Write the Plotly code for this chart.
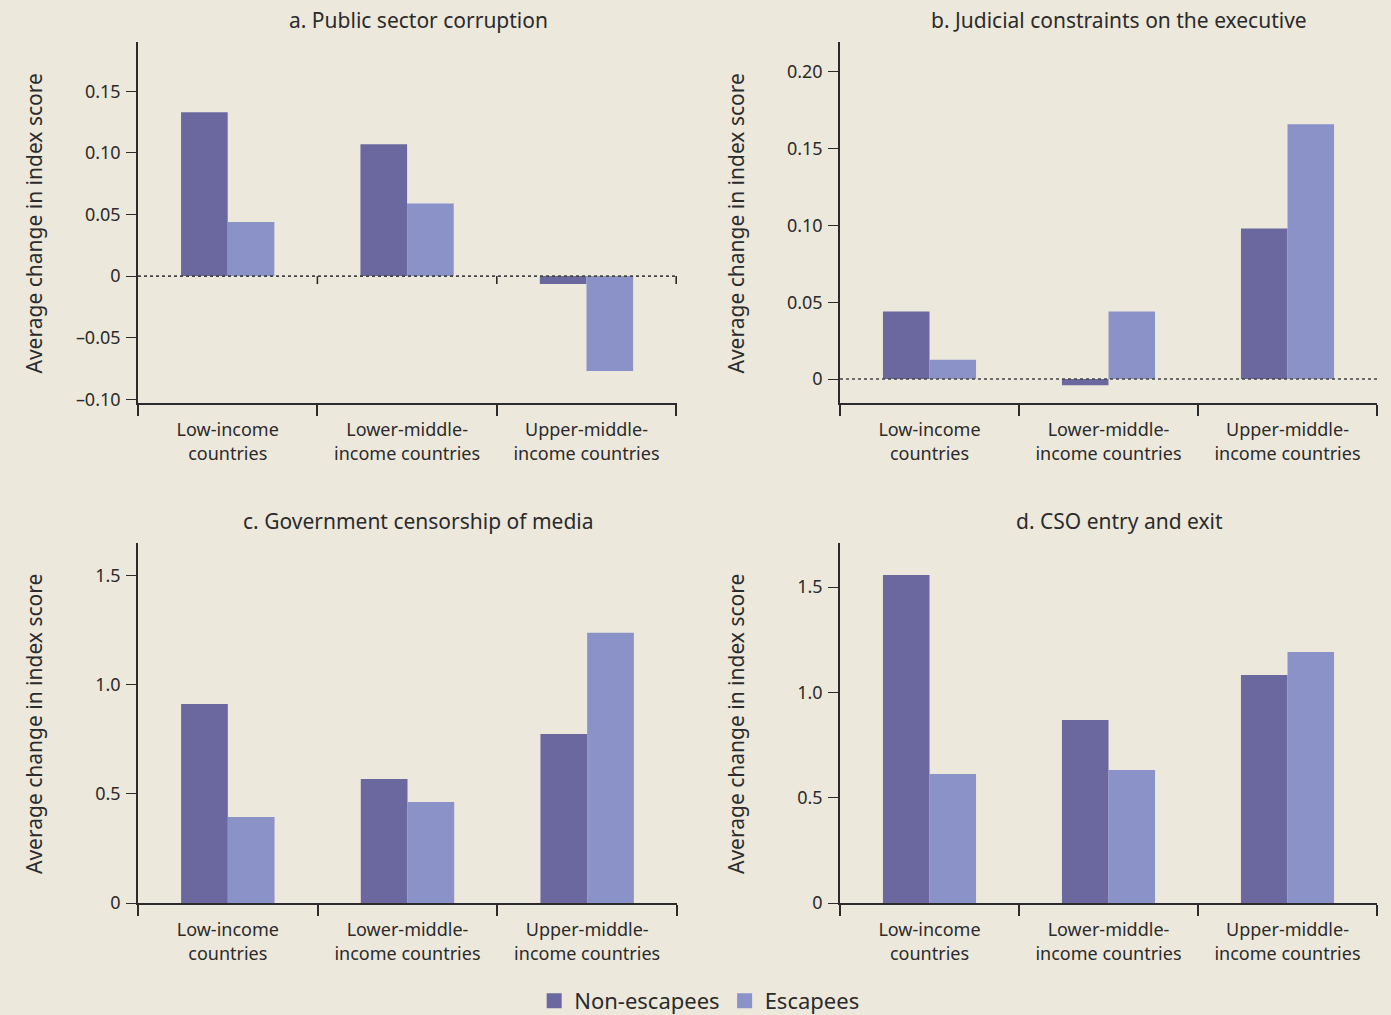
import plotly.graph_objects as go

categories = ["Low-income<br>countries", "Lower-middle-<br>income countries", "Upper-middle-<br>income countries"]
series_names = ["Non-escapees", "Escapees"]

titles = ["a. Public sector corruption", "b. Judicial constraints on the executive",
          "c. Government censorship of media", "d. CSO entry and exit"]

a_non = [0.133, 0.107, -0.0065]
a_esc = [0.044, 0.059, -0.077]
b_non = [0.044, -0.004, 0.098]
b_esc = [0.0125, 0.044, 0.166]
c_non = [0.913, 0.569, 0.775]
c_esc = [0.394, 0.463, 1.239]
d_non = [1.557, 0.869, 1.082]
d_esc = [0.612, 0.631, 1.191]

a_ticks = [-0.10, -0.05, 0, 0.05, 0.10, 0.15]
a_ticktext = ["\u20130.10", "\u20130.05", "0", "0.05", "0.10", "0.15"]
b_ticks = [0, 0.05, 0.10, 0.15, 0.20]
b_ticktext = ["0", "0.05", "0.10", "0.15", "0.20"]
c_ticks = [0, 0.5, 1.0, 1.5]
c_ticktext = ["0", "0.5", "1.0", "1.5"]
d_ticks = [0, 0.5, 1.0, 1.5]
d_ticktext = ["0", "0.5", "1.0", "1.5"]

y_title = "Average change in index score"

W, H = 1391, 1015
BG = "#ede8dc"
DARK = "#6b679f"
LIGHT = "#8b92c8"
TXT = "#2b2b2b"
FONT = "Noto Sans"

def px_x(p):
    return p / W

def px_y(p):
    return 1 - p / H

panels = [
    dict(non=a_non, esc=a_esc, ticks=a_ticks, tt=a_ticktext, rng=[-0.103, 0.19], x=(138, 677), y=(42, 403), title_x=419),
    dict(non=b_non, esc=b_esc, ticks=b_ticks, tt=b_ticktext, rng=[-0.0156, 0.2195], x=(840, 1377), y=(42, 403), title_x=1119),
    dict(non=c_non, esc=c_esc, ticks=c_ticks, tt=c_ticktext, rng=[0, 1.651], x=(138, 677), y=(543, 903), title_x=419),
    dict(non=d_non, esc=d_esc, ticks=d_ticks, tt=d_ticktext, rng=[0, 1.709], x=(840, 1377), y=(543, 903), title_x=1119),
]

fig = go.Figure()
annotations = []
shapes = []
layout_axes = {}

for i, p in enumerate(panels):
    n = i + 1
    xa = "x" if n == 1 else f"x{n}"
    ya = "y" if n == 1 else f"y{n}"
    fig.add_trace(go.Bar(x=categories, y=p["non"], name=series_names[0], marker_color=DARK,
                         marker_line_width=0, xaxis=xa, yaxis=ya, showlegend=False,
                         legendgroup="non", offsetgroup="non"))
    fig.add_trace(go.Bar(x=categories, y=p["esc"], name=series_names[1], marker_color=LIGHT,
                         marker_line_width=0, xaxis=xa, yaxis=ya, showlegend=False,
                         legendgroup="esc", offsetgroup="esc"))
    xkey = "xaxis" if n == 1 else f"xaxis{n}"
    ykey = "yaxis" if n == 1 else f"yaxis{n}"
    layout_axes[xkey] = dict(
        domain=[px_x(p["x"][0]), px_x(p["x"][1])], anchor=ya, type="category",
        tickson="boundaries", ticks="outside", ticklen=11, tickwidth=1.6, tickcolor=TXT,
        showline=True, linecolor=TXT, linewidth=1.6, showgrid=False, zeroline=False,
        tickfont=dict(family=FONT, size=18, color=TXT), fixedrange=True,
        ticklabelstandoff=10, automargin=False,
    )
    layout_axes[ykey] = dict(
        domain=[px_y(p["y"][1]), px_y(p["y"][0])], anchor=xa, range=p["rng"],
        tickmode="array", tickvals=p["ticks"], ticktext=p["tt"],
        ticks="outside", ticklen=10, tickwidth=1.2, tickcolor=TXT,
        showline=True, linecolor=TXT, linewidth=1.6, showgrid=False, zeroline=False,
        tickfont=dict(family=FONT, size=18, color=TXT), fixedrange=True,
        ticklabelstandoff=2, automargin=False,
    )
    annotations.append(dict(text=titles[i], x=px_x(p["title_x"]), y=px_y(p["y"][0] - 22),
                            xref="paper", yref="paper", showarrow=False, xanchor="center", yanchor="middle",
                            font=dict(family=FONT, size=21, color=TXT)))
    annotations.append(dict(text=y_title, x=px_x(p["x"][0] - 104), y=px_y((p["y"][0] + p["y"][1]) / 2 + 1),
                            xref="paper", yref="paper", showarrow=False, textangle=-90,
                            xanchor="center", yanchor="middle",
                            font=dict(family=FONT, size=21, color=TXT)))
    if n in (1, 2):
        shapes.append(dict(type="line", xref=f"{xa} domain", yref=ya, x0=0, x1=1, y0=0, y1=0,
                           line=dict(color="#444444", width=1.6, dash="dot")))
    if n == 1:
        for b in [0.5, 1.5, 2.5]:
            shapes.append(dict(type="line", xref=xa, yref=ya, x0=b, x1=b, y0=0, y1=-8,
                               ysizemode="pixel", yanchor=0, line=dict(color=TXT, width=1.6)))

# legend-only entries with larger square swatches
for name, col in zip(series_names, [DARK, LIGHT]):
    fig.add_trace(go.Scatter(x=[None], y=[None], mode="markers", name=name,
                             marker=dict(symbol="square", size=15, color=col),
                             xaxis="x", yaxis="y", showlegend=True, hoverinfo="skip"))

fig.update_layout(
    width=W, height=H, margin=dict(l=0, r=0, t=0, b=0, autoexpand=False),
    paper_bgcolor=BG, plot_bgcolor=BG,
    barmode="group", bargap=0.48, bargroupgap=0,
    font=dict(family=FONT, color=TXT),
    legend=dict(orientation="h", x=0.503, y=px_y(1001), xanchor="center", yanchor="middle",
                font=dict(family=FONT, size=22, color=TXT), bgcolor="rgba(0,0,0,0)",
                itemwidth=30, traceorder="normal", tracegroupgap=0),
    annotations=annotations, shapes=shapes,
    **layout_axes,
)

fig.write_html(
    "out.html",
    config={"displayModeBar": False},
    post_script="document.body.style.margin='0';document.body.style.padding='0';"
                "document.body.style.background='#ede8dc';document.body.style.overflow='hidden';",
)
